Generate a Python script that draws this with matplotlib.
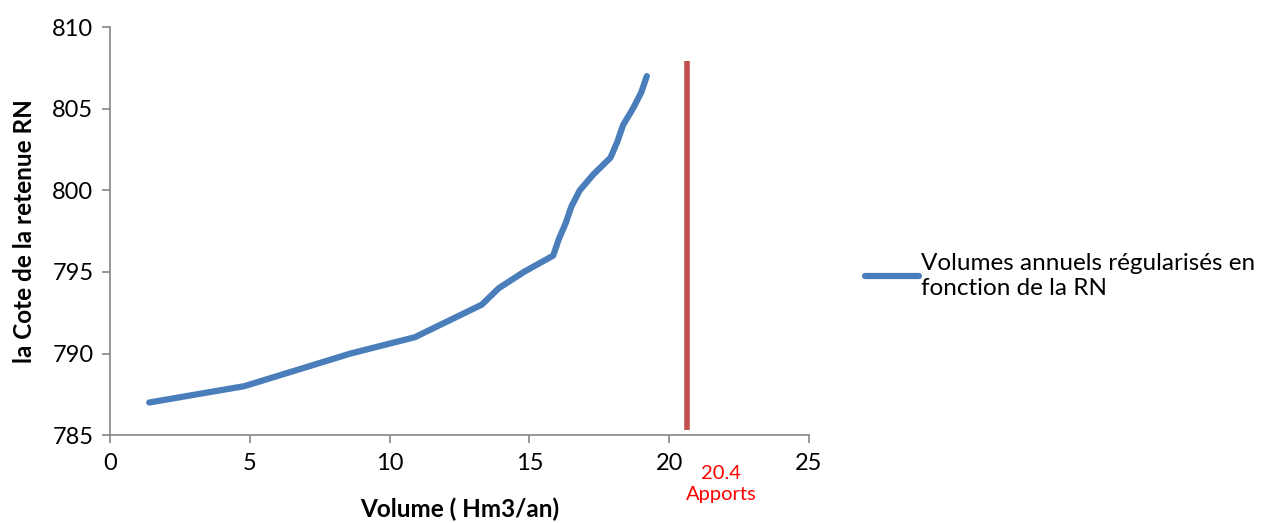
import matplotlib.pyplot as plt

# Cote de la retenue (m) et volumes annuels regularises (Hm3/an)
cotes = [787, 788, 789, 790, 791, 792, 793, 794, 795, 796, 797,
         798, 799, 800, 801, 802, 803, 804, 805, 806, 807]
volumes = [1.4, 4.8, 6.7, 8.6, 10.9, 12.1, 13.3, 13.9, 14.8, 15.85, 16.05,
           16.3, 16.5, 16.8, 17.3, 17.9, 18.15, 18.35, 18.7, 19.0, 19.2]

# Apports annuels (ligne verticale rouge)
apports_label = 20.4
apports_x = 20.65
apports_y = [785.3, 807.9]

plt.rcParams['font.family'] = ['Lato', 'DejaVu Sans']

fig = plt.figure(figsize=(12.8, 5.23), dpi=100)
ax = fig.add_axes([0.086, 0.168, 0.546, 0.780])

ax.plot([apports_x, apports_x], apports_y, color='#C0504D', lw=4, solid_capstyle='butt', zorder=2)
line, = ax.plot(volumes, cotes, color='#4A7EBB', lw=4.5, solid_capstyle='round',
                solid_joinstyle='round', zorder=3,
                label='Volumes annuels régularisés en\nfonction de la RN')

ax.set_xlim(0, 25)
ax.set_ylim(785, 810)
ax.set_xticks([0, 5, 10, 15, 20, 25])
ax.set_yticks([785, 790, 795, 800, 805, 810])

for s in ['top', 'right']:
    ax.spines[s].set_visible(False)
for s in ['left', 'bottom']:
    ax.spines[s].set_color('#868686')
    ax.spines[s].set_linewidth(1.2)
ax.tick_params(axis='both', colors='#868686', labelcolor='black', labelsize=17,
               length=6, width=1.2, direction='out')
ax.tick_params(axis='x', pad=7)
ax.tick_params(axis='y', pad=6)

ax.set_xlabel('Volume ( Hm3/an)', fontsize=17.5, fontweight='bold', labelpad=17)
ax.set_ylabel('la Cote de la retenue RN', fontsize=17.5, fontweight='bold', labelpad=12)

ax.text(21.85, 783.2, f'{apports_label}\nApports', color='red', fontsize=14.5,
        ha='center', va='top', linespacing=1.3, clip_on=False)

fig.legend(handles=[line], loc='center left', bbox_to_anchor=(0.668, 0.472),
           frameon=False, fontsize=17.5, handlelength=2.25, handletextpad=0.05,
           borderaxespad=0, labelspacing=0.3)

fig.savefig('out.png', dpi=100)
